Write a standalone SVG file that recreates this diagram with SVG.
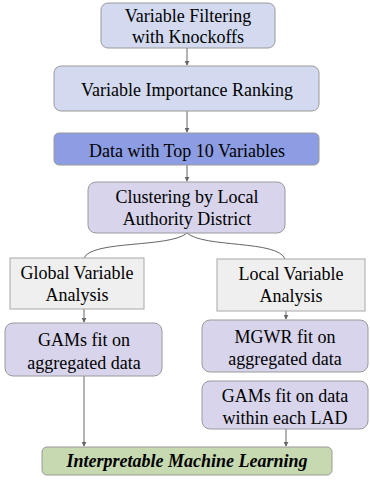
<svg xmlns="http://www.w3.org/2000/svg" width="370" height="481" viewBox="0 0 370 481">
  <defs>
    <marker id="arrow" viewBox="0 0 6 6" refX="5" refY="3" markerWidth="5" markerHeight="5" orient="auto">
      <path d="M0,0 L6,3 L0,6 Z" fill="#666"/>
    </marker>
  </defs>
  <rect width="370" height="481" fill="#ffffff"/>

  <g id="connectors" fill="none" stroke="#666" stroke-width="1">
    <path d="M187,48 L187,65" marker-end="url(#arrow)"/>
    <path d="M187,111 L187,132" marker-end="url(#arrow)"/>
    <path d="M187,165 L187,181" marker-end="url(#arrow)"/>
    <path d="M187,233 C170,248 92,240 84,258"/>
    <path d="M187,233 C204,248 278,240 285,259"/>
    <path d="M84,309 L84,322" marker-end="url(#arrow)"/>
    <path d="M286,311 L286,319" marker-end="url(#arrow)"/>
    <path d="M84,376 L84,446" marker-end="url(#arrow)"/>
    <path d="M286,429 L286,446" marker-end="url(#arrow)"/>
  </g>

  <g id="knockoffs">
    <rect fill="#d3daf0" stroke="#9a9a9a" x="101" y="3" width="174" height="45" rx="7"/>
    <text font-family="Times New Roman" font-size="18" text-anchor="middle" x="188" y="22">Variable Filtering</text>
    <text font-family="Times New Roman" font-size="18" text-anchor="middle" x="188" y="43">with Knockoffs</text>
  </g>

  <g id="importance">
    <rect fill="#d3daf0" stroke="#9a9a9a" x="54" y="66" width="265" height="45" rx="7"/>
    <text font-family="Times New Roman" font-size="18" text-anchor="middle" x="187" y="96">Variable Importance Ranking</text>
  </g>

  <g id="top10">
    <rect fill="#8c9de3" stroke="#9a9a9a" x="54" y="133" width="265" height="32" rx="5"/>
    <text font-family="Times New Roman" font-size="18" text-anchor="middle" x="187" y="157">Data with Top 10 Variables</text>
  </g>

  <g id="clustering">
    <rect fill="#d7d4eb" stroke="#9a9a9a" x="88" y="182" width="197" height="51" rx="8"/>
    <text font-family="Times New Roman" font-size="18" text-anchor="middle" x="187" y="203">Clustering by Local</text>
    <text font-family="Times New Roman" font-size="18" text-anchor="middle" x="187" y="225">Authority District</text>
  </g>

  <g id="global">
    <rect fill="#efefef" stroke="#a8a8a8" x="10" y="258" width="134" height="51"/>
    <text font-family="Times New Roman" font-size="18" text-anchor="middle" x="77" y="279">Global Variable</text>
    <text font-family="Times New Roman" font-size="18" text-anchor="middle" x="77" y="301">Analysis</text>
  </g>

  <g id="local">
    <rect fill="#efefef" stroke="#a8a8a8" x="217" y="259" width="148" height="52"/>
    <text font-family="Times New Roman" font-size="18" text-anchor="middle" x="291" y="280">Local Variable</text>
    <text font-family="Times New Roman" font-size="18" text-anchor="middle" x="291" y="302">Analysis</text>
  </g>

  <g id="gams-aggregated">
    <rect fill="#d7d4eb" stroke="#9a9a9a" x="5" y="323" width="157" height="53" rx="8"/>
    <text font-family="Times New Roman" font-size="18" text-anchor="middle" x="84" y="346">GAMs fit on</text>
    <text font-family="Times New Roman" font-size="18" text-anchor="middle" x="84" y="369">aggregated data</text>
  </g>

  <g id="mgwr">
    <rect fill="#d7d4eb" stroke="#9a9a9a" x="202" y="320" width="166" height="52" rx="8"/>
    <text font-family="Times New Roman" font-size="18" text-anchor="middle" x="285" y="343">MGWR fit on</text>
    <text font-family="Times New Roman" font-size="18" text-anchor="middle" x="285" y="365">aggregated data</text>
  </g>

  <g id="gams-lad">
    <rect fill="#d7d4eb" stroke="#9a9a9a" x="202" y="381" width="166" height="48" rx="8"/>
    <text font-family="Times New Roman" font-size="18" text-anchor="middle" x="285" y="402">GAMs fit on data</text>
    <text font-family="Times New Roman" font-size="18" text-anchor="middle" x="285" y="424">within each LAD</text>
  </g>

  <g id="iml">
    <rect fill="#c6d9b0" stroke="#9a9a9a" x="42" y="447" width="290" height="28" rx="5"/>
    <text font-family="Times New Roman" font-size="18" font-weight="bold" font-style="italic" text-anchor="middle" x="187" y="467">Interpretable Machine Learning</text>
  </g>
</svg>
